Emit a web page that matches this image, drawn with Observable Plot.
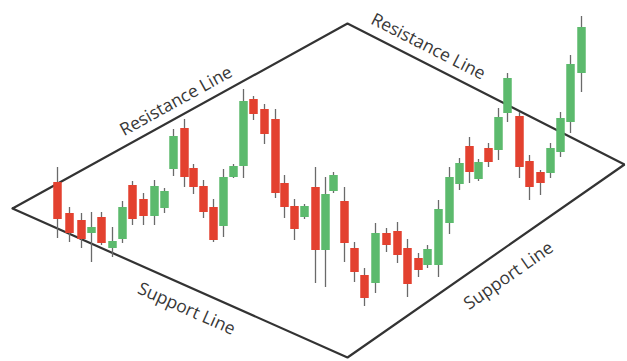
<!DOCTYPE html>
<html>
<head>
<meta charset="utf-8">
<script src="https://cdn.jsdelivr.net/npm/d3@7"></script>
<script src="https://cdn.jsdelivr.net/npm/@observablehq/plot@0.6"></script>
<style>
  html, body { margin: 0; padding: 0; background: #fff; }
  #chart svg { display: block; }
</style>
</head>
<body>
<div id="chart"></div>
<script>
// Candle time positions and OHLC prices
const times = [57,69,81,91,101,112,122,132,143,154,164,173,184,193,203,213,223,233,243,253,264,275,284,294,304,315,325,333,344,354,364,375,386,397,407,418,427,438,449,459,469,478,488,498,507,519,529,540,550,560,570,581];
const opens = [179,148,141,128,144,113,122,176,162,145,153,192,233,193,175,154,135,184,195,262,252,242,178,155,144,174,111,170,160,113,86,78,128,130,113,103,96,96,138,177,215,182,213,211,248,245,200,189,188,209,239,288];
const closes = [142,128,122,134,118,120,154,142,145,175,170,225,184,174,149,121,184,195,260,247,227,168,154,132,155,111,167,186,118,89,63,128,116,106,77,91,112,152,184,198,189,199,199,244,283,194,174,178,213,243,297,334];
const highs = [194,154,148,149,149,134,160,180,168,181,173,232,242,197,181,162,192,197,272,265,257,252,186,162,157,194,184,189,174,119,93,138,133,139,122,108,116,161,194,203,224,202,218,253,288,249,206,191,218,249,306,345];
const lows = [123,119,113,99,116,104,118,136,136,136,148,185,174,167,143,119,124,183,183,241,217,163,143,121,142,78,74,168,99,79,55,68,109,98,64,84,93,84,127,171,178,180,194,201,239,183,161,166,183,204,228,269];

// Trend channel (rhombus) vertices: left, top, right, bottom
const channelT = [12, 347, 624, 347];
const channelP = [153, 338, 197, 4];

// Labels
const labelTexts = ["Resistance Line", "Resistance Line", "Support Line", "Support Line"];

const candles = times.map((t, i) => ({t, open: opens[i], close: closes[i], high: highs[i], low: lows[i]}));
const verts = channelT.map((t, i) => ({t, p: channelP[i]}));
const ring = [...verts, verts[0]];

const W = 627, H = 361;
const RED = "#e3412f", GREEN = "#5cba6d";

// label placement: edge (from vertex a to b), fraction along edge, normal offset (px)
const labelLayout = [
  {a: 0, b: 1, f: 0.51, off: -15},
  {a: 1, b: 2, f: 0.265, off: -16},
  {a: 0, b: 3, f: 0.545, off: 21},
  {a: 3, b: 2, f: 0.53, off: 25}
];

const xs = d3.scaleLinear().domain([0, W]).range([0, W]);
const ys = d3.scaleLinear().domain([0, H]).range([H, 0]);

const labelMarks = labelLayout.map((L, i) => {
  const A = verts[L.a], B = verts[L.b];
  const ax = xs(A.t), ay = ys(A.p), bx = xs(B.t), by = ys(B.p);
  const ang = Math.atan2(by - ay, bx - ax);
  const deg = ang * 180 / Math.PI;
  const nx = -Math.sin(ang), ny = Math.cos(ang);
  const t = A.t + L.f * (B.t - A.t);
  const p = A.p + L.f * (B.p - A.p);
  return Plot.text([{t, p, s: labelTexts[i]}], {
    x: "t", y: "p", text: "s",
    rotate: deg,
    dx: nx * L.off, dy: ny * L.off,
    fontSize: 17.5,
    fill: "#383838",
    textAnchor: "middle",
    lineAnchor: "middle"
  });
});

const chart = Plot.plot({
  width: W,
  height: H,
  margin: 0,
  x: {domain: [0, W], axis: null},
  y: {domain: [0, H], axis: null},
  style: {fontFamily: "'Open Sans', Lato, sans-serif", background: "#fff"},
  marks: [
    Plot.line(ring, {x: "t", y: "p", stroke: "#333", strokeWidth: 2.2, strokeLinejoin: "miter"}),
    Plot.ruleX(candles, {x: "t", y1: "low", y2: "high", stroke: "#6a6a6a", strokeWidth: 1.3}),
    Plot.ruleX(candles, {x: "t", y1: "open", y2: "close", stroke: d => d.close >= d.open ? GREEN : RED, strokeWidth: 8.5}),
    ...labelMarks
  ]
});
document.getElementById("chart").appendChild(chart);
</script>
</body>
</html>
